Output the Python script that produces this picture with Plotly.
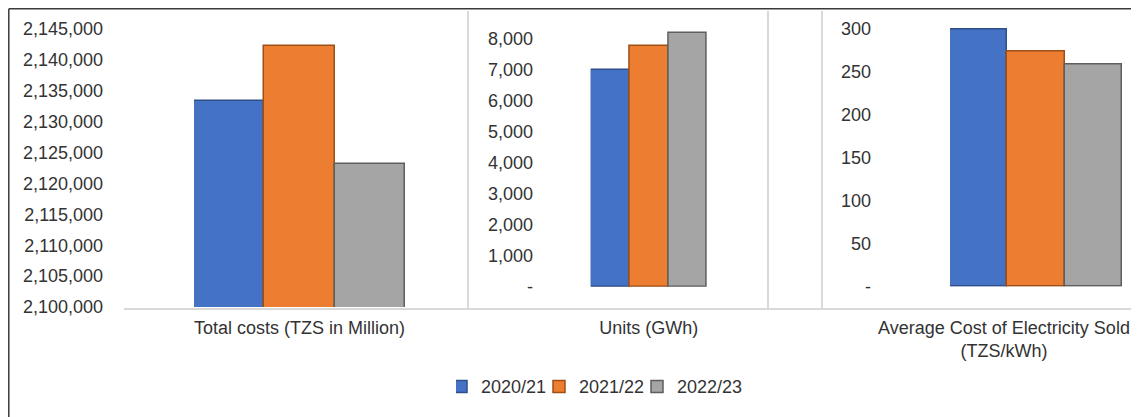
import plotly.graph_objects as go

years = ["2020/21", "2021/22", "2022/23"]
categories = ["Total costs (TZS in Million)", "Units (GWh)",
              "Average Cost of Electricity Sold<br>(TZS/kWh)"]
total_costs = [2133350, 2142200, 2123200]
units_gwh = [6970, 7745, 8165]
avg_cost = [299.5, 274.5, 259]

cost_ticks = list(range(2100000, 2145001, 5000))
unit_ticks = list(range(0, 8001, 1000))
unit_text = ["-"] + [f"{v:,}" for v in unit_ticks[1:]]
avg_ticks = list(range(0, 301, 50))
avg_text = ["-"] + [str(v) for v in avg_ticks[1:]]

colors = ["#4472C4", "#ED7D31", "#A5A5A5"]
edges = ["#2F4F8A", "#9E4F16", "#5E5E5E"]

# page body keeps an 8px margin, so size the figure to what is visible
OFF = 8
W, H = 1139 - OFF, 417 - OFF
px = lambda v: (v - OFF) / W
py = lambda v: 1 - (v - OFF) / H

fig = go.Figure()
panels = [total_costs, units_gwh, avg_cost]
for i, yr in enumerate(years):
    for k, vals in enumerate(panels):
        sfx = "" if k == 0 else str(k + 1)
        fig.add_trace(go.Bar(
            x=[categories[k]], y=[vals[i]], name=yr,
            legendgroup=yr, showlegend=(k == 0),
            marker=dict(color=colors[i], line=dict(color=edges[i], width=1.5)),
            xaxis="x" + sfx, yaxis="y" + sfx,
        ))

font = dict(family="Liberation Sans, Arial, sans-serif", size=18, color="#333333")
xcommon = dict(anchor="free", position=py(309), showline=False, showgrid=False,
               zeroline=False, ticks="", tickangle=0, tickfont=font, automargin=False,
               ticklabelstandoff=6)
ycommon = dict(anchor="free", showline=False, showgrid=False, zeroline=False,
               ticks="", tickfont=font, automargin=False)

fig.update_layout(
    width=W, height=H,
    margin=dict(l=0, r=0, t=0, b=0, autoexpand=False),
    paper_bgcolor="white", plot_bgcolor="rgba(0,0,0,0)",
    barmode="group", bargap=0, bargroupgap=0,
    font=font,
    xaxis=dict(domain=[px(194), px(405)], **xcommon),
    xaxis2=dict(domain=[px(590.7), px(707)], **xcommon),
    xaxis3=dict(domain=[px(950), px(1122)], ticklabelshift=-32, **xcommon),
    yaxis=dict(domain=[py(307), py(29)], range=[2100000, 2145000],
               tickvals=cost_ticks, tickformat=",", position=px(103), **ycommon),
    yaxis2=dict(domain=[py(286.7), py(26)], range=[0, 8400],
                tickvals=unit_ticks, ticktext=unit_text, position=px(533), **ycommon),
    yaxis3=dict(domain=[py(286.7), py(20.4)], range=[0, 310],
                tickvals=avg_ticks, ticktext=avg_text, position=px(871), **ycommon),
    legend=dict(orientation="h", x=px(456), xanchor="left", y=py(386.7),
                yanchor="middle", font=font, bgcolor="rgba(0,0,0,0)",
                indentation=-15, entrywidth=68, entrywidthmode="pixels"),
    showlegend=True,
)

grid = "#D9D9D9"
shapes = [
    dict(type="line", xref="paper", yref="paper", x0=px(124), x1=1, y0=py(309), y1=py(309),
         line=dict(color=grid, width=2)),
]
for xv in [468, 768, 822]:
    shapes.append(dict(type="line", xref="paper", yref="paper", x0=px(xv), x1=px(xv),
                       y0=py(11), y1=py(309), line=dict(color=grid, width=2)))
# outer frame (top and left edges are the only ones in view)
fx, fy = 8.8, 8.8
shapes.append(dict(type="line", xref="paper", yref="paper", x0=px(fx), x1=1, y0=py(fy), y1=py(fy),
                   line=dict(color="#3A3A3A", width=1.5)))
shapes.append(dict(type="line", xref="paper", yref="paper", x0=px(fx), x1=px(fx), y0=py(fy), y1=0,
                   line=dict(color="#3A3A3A", width=1.5)))
fig.update_layout(shapes=shapes)

fig.write_html("out.html")
